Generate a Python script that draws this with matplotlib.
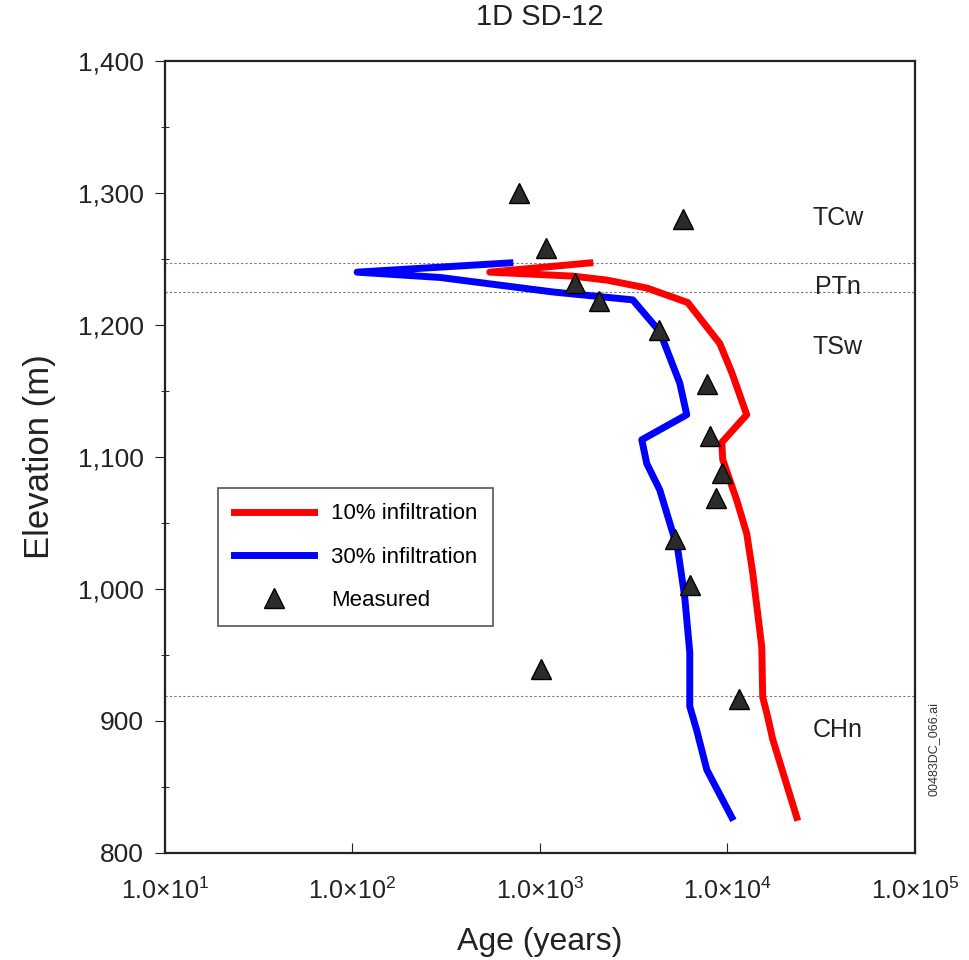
import numpy as np
import matplotlib
matplotlib.use("Agg")
import matplotlib.pyplot as plt
from matplotlib.ticker import FuncFormatter, MultipleLocator

plt.rcParams['font.family'] = ['Liberation Sans', 'DejaVu Sans']
plt.rcParams['mathtext.fontset'] = 'custom'
plt.rcParams['mathtext.rm'] = 'Liberation Sans'
plt.rcParams['mathtext.it'] = 'Liberation Sans'

# 10% infiltration model (age in years, elevation in m)
age_10 = [1849, 541, 1500, 2277, 3720, 6150, 9120, 10570, 12700, 9350, 9460,
          11250, 12700, 13680, 15280, 15460, 16250, 17490, 23480]
elev_10 = [1247, 1240, 1237, 1234, 1228, 1217, 1186, 1164, 1132, 1111, 1098,
           1067, 1042, 1012, 956, 918, 906, 886, 827]

# 30% infiltration model
age_30 = [692, 106, 293, 1173, 3133, 4365, 5580, 6080, 3500, 3720, 4365,
          4935, 5445, 5930, 6310, 6310, 6870, 7780, 10570]
elev_30 = [1247, 1240, 1236, 1225, 1219, 1195, 1156, 1132, 1113, 1095, 1075,
           1050, 1030, 994, 952, 911, 893, 863, 827]

# measured ages
age_meas = [773, 5800, 1077, 1537, 2065, 4315, 7780, 8080, 9350, 8690, 5250,
            6310, 1011, 11500]
elev_meas = [1300, 1280, 1258, 1232, 1218, 1196, 1155, 1116, 1088, 1069, 1038,
             1003, 939, 917]

# unit boundaries and labels
contacts = [1247, 1225, 919]
units = ["TCw", "PTn", "TSw", "CHn"]
unit_elev = [1281, 1229, 1183, 893]

fig = plt.figure(figsize=(9.7, 9.6), dpi=100)
ax = fig.add_axes([0.170, 0.1115, 0.773, 0.825])

for c in contacts:
    ax.axhline(c, color='#777777', lw=0.8, ls=(0, (2, 2)), zorder=1)

ax.plot(age_10, elev_10, color='#ff0000', lw=5, label='10% infiltration', zorder=3)
ax.plot(age_30, elev_30, color='#0000ff', lw=5, label='30% infiltration', zorder=3)
ax.plot(age_meas, elev_meas, ls='none', marker='^', ms=15, mfc='#2b2b2b',
        mec='black', mew=1, label='Measured', zorder=4)

for name, e in zip(units, unit_elev):
    ax.text(38800, e, name, fontsize=18, ha='center', va='center', color='#222222')

ax.set_xscale('log')
ax.set_xlim(10, 1e5)
ax.set_ylim(800, 1400)
ax.xaxis.set_minor_locator(plt.NullLocator())
ax.xaxis.set_major_formatter(FuncFormatter(
    lambda v, p: r'$1.0{\times}10^{%d}$' % round(np.log10(v))))
ax.yaxis.set_major_locator(MultipleLocator(100))
ax.yaxis.set_minor_locator(MultipleLocator(50))
ax.yaxis.set_major_formatter(FuncFormatter(lambda v, p: f'{int(v):,}'))
ax.tick_params(axis='x', direction='in', length=7, labelsize=18, pad=18, colors='#222222')
ax.tick_params(axis='y', which='major', direction='out', length=7, labelsize=19,
               pad=8, colors='#222222')
ax.tick_params(axis='y', which='minor', direction='inout', length=6)
for s in ax.spines.values():
    s.set_linewidth(1.6)
    s.set_color('#222222')

ax.set_xlabel('Age (years)', fontsize=23, labelpad=16, color='#222222')
ax.set_ylabel('Elevation (m)', fontsize=25, labelpad=16, color='#222222')
ax.set_title('1D SD-12', fontsize=21, pad=26, color='#222222')

leg = ax.legend(loc='upper left', bbox_to_anchor=(0.071, 0.461), borderaxespad=0,
                fontsize=16, handlelength=3.6, labelspacing=1.0, borderpad=0.7,
                handletextpad=0.8, fancybox=False, edgecolor='#555555', framealpha=1)
leg.get_frame().set_linewidth(1.2)

fig.text(0.962, 0.22, '00483DC_066.ai', rotation=90, fontsize=9,
         ha='center', va='center', color='#333333')

fig.savefig('out.png', dpi=100)
